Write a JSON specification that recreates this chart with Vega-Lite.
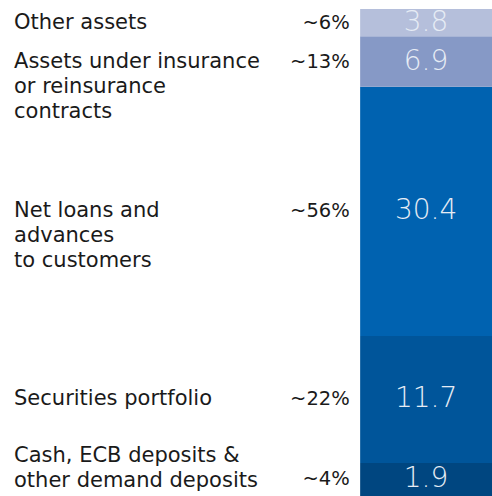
{
  "$schema": "https://vega.github.io/schema/vega-lite/v6.json",
  "autosize": "none",
  "width": 492,
  "height": 487,
  "padding": {"top": 9, "left": 0, "right": 0, "bottom": 0},
  "background": "white",
  "config": {"view": {"stroke": null}},
  "data": {
    "values": [
      {"order": 1, "category": "Cash, ECB deposits &\nother demand deposits", "value": 1.9, "pct": "~4%"},
      {"order": 2, "category": "Securities portfolio", "value": 11.7, "pct": "~22%"},
      {"order": 3, "category": "Net loans and\nadvances\nto customers", "value": 30.4, "pct": "~56%"},
      {"order": 4, "category": "Assets under insurance\nor reinsurance\ncontracts", "value": 6.9, "pct": "~13%"},
      {"order": 5, "category": "Other assets", "value": 3.8, "pct": "~6%"}
    ]
  },
  "transform": [
    {"stack": "value", "groupby": [], "sort": [{"field": "order", "order": "ascending"}], "as": ["y0", "y1"]},
    {"calculate": "pow((pow(datum.y0, 0.8) + pow(datum.y1, 0.8)) / 2, 1 / 0.8)", "as": "mid"}
  ],
  "layer": [
    {
      "mark": {"type": "bar", "stroke": null},
      "encoding": {
        "x": {"datum": 73.2, "type": "quantitative", "scale": {"domain": [0, 100]}, "axis": null},
        "x2": {"datum": 100},
        "y": {"field": "y0", "type": "quantitative", "scale": {"type": "pow", "exponent": 0.8, "domain": [0, 54.7], "nice": false}, "axis": null},
        "y2": {"field": "y1"},
        "color": {
          "field": "category", "type": "nominal", "legend": null,
          "scale": {
            "domain": ["Cash, ECB deposits &\nother demand deposits", "Securities portfolio", "Net loans and\nadvances\nto customers", "Assets under insurance\nor reinsurance\ncontracts", "Other assets"],
            "range": ["#004680", "#00559a", "#0062b0", "#8699c6", "#b5bfdb"]
          }
        }
      }
    },
    {
      "mark": {"type": "text", "align": "center", "baseline": "middle", "font": "DejaVu Sans", "fontSize": 28, "fontWeight": 200, "color": "#e6ecf5"},
      "encoding": {
        "x": {"datum": 86.6, "type": "quantitative"},
        "y": {"field": "mid", "type": "quantitative"},
        "text": {"field": "value", "type": "quantitative", "format": ".1f"}
      }
    },
    {
      "mark": {"type": "text", "align": "right", "baseline": "middle", "font": "DejaVu Sans", "fontSize": 19.5, "color": "#1a1a1a"},
      "encoding": {
        "x": {"datum": 71.1, "type": "quantitative"},
        "y": {"field": "mid", "type": "quantitative"},
        "text": {"field": "pct", "type": "nominal"}
      }
    },
    {
      "transform": [{"filter": "datum.order != 1"}],
      "mark": {"type": "text", "align": "left", "baseline": "middle", "font": "DejaVu Sans", "fontSize": 21, "lineHeight": 25, "lineBreak": "\n", "color": "#1a1a1a"},
      "encoding": {
        "x": {"datum": 2.85, "type": "quantitative"},
        "y": {"field": "mid", "type": "quantitative"},
        "text": {"field": "category", "type": "nominal"}
      }
    },
    {
      "transform": [{"filter": "datum.order == 1"}],
      "mark": {"type": "text", "align": "left", "baseline": "middle", "dy": -23, "font": "DejaVu Sans", "fontSize": 21, "lineHeight": 25, "lineBreak": "\n", "color": "#1a1a1a"},
      "encoding": {
        "x": {"datum": 2.85, "type": "quantitative"},
        "y": {"field": "mid", "type": "quantitative"},
        "text": {"field": "category", "type": "nominal"}
      }
    }
  ]
}
